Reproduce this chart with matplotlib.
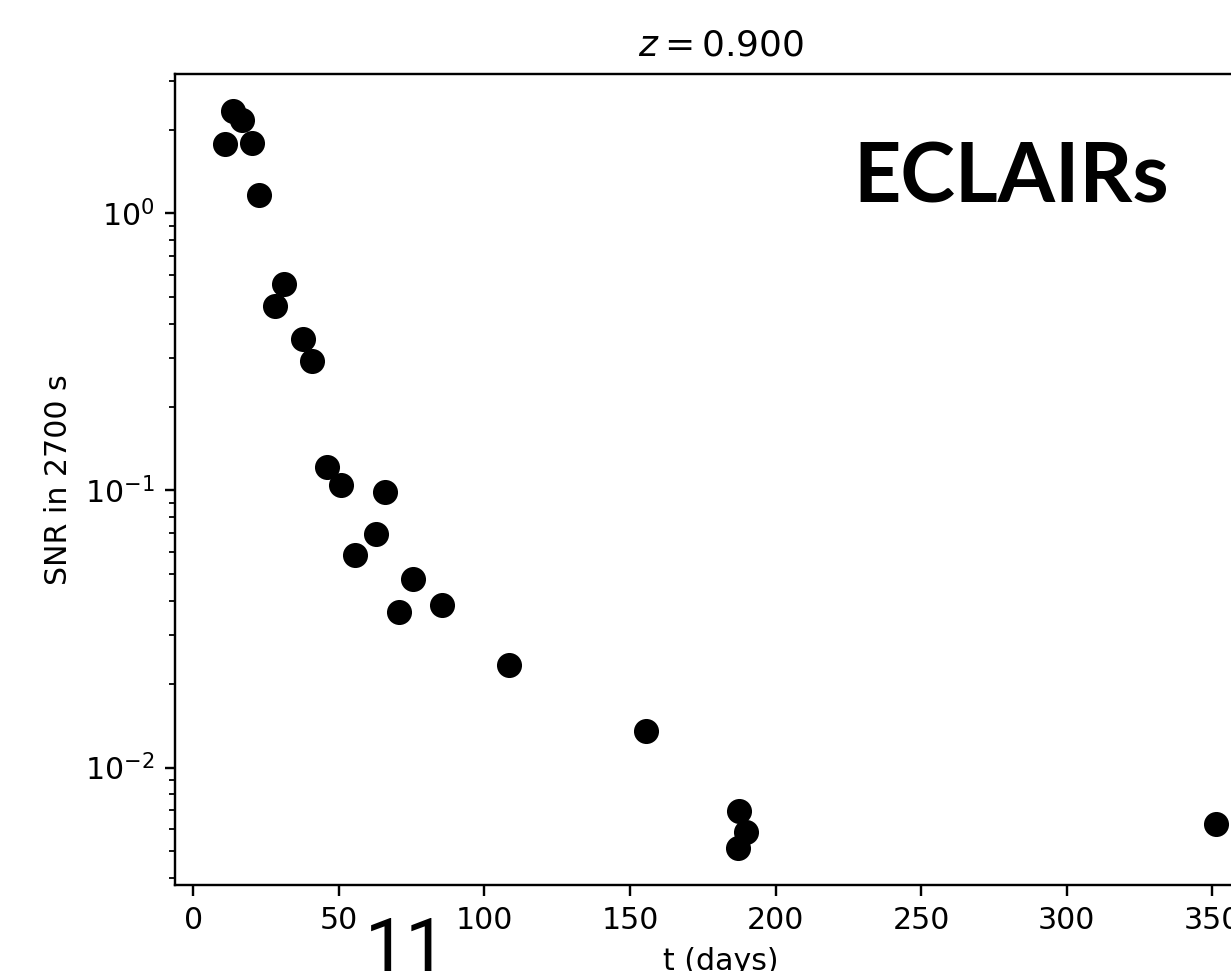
import matplotlib
matplotlib.use("Agg")
import matplotlib.pyplot as plt

# time since explosion (days) and SNR
t_days = [10.9, 13.6, 16.7, 20.2, 22.6, 28.1, 31.1, 37.6, 40.7, 45.9, 50.7,
          55.5, 62.7, 65.8, 70.6, 75.4, 85.4, 108.4, 155.5, 187.4, 189.8,
          187.1, 351.2]
snr = [1.78, 2.34, 2.17, 1.79, 1.166, 0.463, 0.556, 0.352, 0.293, 0.1216,
       0.1047, 0.0585, 0.0697, 0.0989, 0.0365, 0.0480, 0.0387, 0.0234,
       0.01355, 0.00697, 0.00585, 0.00512, 0.00624]
redshift = 0.900
instrument = "ECLAIRs"
page_number = "11"

W, H = 1231, 971
dpi = 216
fig = plt.figure(figsize=(W / dpi, H / dpi), dpi=dpi)

# axes box in pixels: left 175.5, right 1265.5 (beyond the page), top 74, bottom 885
left, right, top, bottom = 175.5, 1265.5, 74, 885
ax = fig.add_axes([left / W, 1 - bottom / H, (right - left) / W, (bottom - top) / H])

ax.scatter(t_days, snr, s=54, color="k")
ax.set_yscale("log")
ax.set_xticks([0, 50, 100, 150, 200, 250, 300, 350])
ax.set_xlabel("t (days)")
ax.set_ylabel("SNR in 2700 s")
ax.set_title(f"$z = {redshift:.3f}$")

ax.text(0.6216, 0.842, instrument, transform=ax.transAxes,
        family="Lato", weight="bold", fontsize=27.5, va="baseline")

# page number of the slide, partly cut at the bottom edge
fig.text(406 / W, 0.0, page_number, family="Roboto", weight="normal",
         fontsize=24.5, ha="center", va="baseline")

fig.savefig("out.png", dpi=dpi)
